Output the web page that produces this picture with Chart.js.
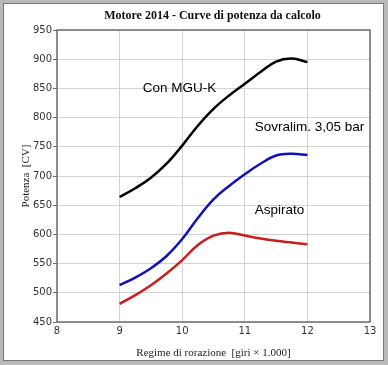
<!DOCTYPE html>
<html>
<head>
<meta charset="utf-8">
<script src="https://cdn.jsdelivr.net/npm/chart.js@4/dist/chart.umd.min.js"></script>
<style>
    html, body { margin: 0; padding: 0; background: #fff; }
    canvas { display: block; }
</style>
</head>
<body>
<canvas id="powerChart" width="388" height="365"></canvas>
<script>
// Data (rpm in thousands, power in CV)
const rpm = [9, 9.25, 9.5, 9.75, 10, 10.25, 10.5, 10.75, 11, 11.25, 11.5, 11.75, 12];
const conMguk = [664, 679, 697, 721, 752, 786, 815, 838, 858, 878, 896, 901, 895];
const sovralim = [513, 526, 542, 563, 592, 628, 660, 683, 703, 721, 735, 738, 736];
const aspirato = [481, 496, 513, 533, 556, 582, 598, 603, 598, 593, 589, 586, 583];

const xTicks = [8, 9, 10, 11, 12, 13];
const yTicks = [450, 500, 550, 600, 650, 700, 750, 800, 850, 900, 950];

// Curve labels placed in data coordinates (left edge, vertical middle)
const labelTexts = ['Con MGU-K', 'Sovralim. 3,05 bar', 'Aspirato'];
const labelX = [9.37, 11.16, 11.16];
const labelY = [851, 784, 642];

const chartTitle = 'Motore 2014 - Curve di potenza da calcolo';
const yTitle = 'Potenza  [CV]';
const xTitle = 'Regime di rorazione  [giri \u00d7 1.000]';

const toPoints = values => values.map((v, i) => ({ x: rpm[i], y: v }));

// Gray picture frame plus the title over the plot area
const framePlugin = {
    id: 'frame',
    beforeDraw(chart) {
        const { ctx, width, height, chartArea } = chart;
        ctx.save();
        ctx.fillStyle = '#b9b9b9';
        ctx.fillRect(0, 0, width, 3);
        ctx.fillRect(0, 0, 3, height);
        ctx.fillRect(width - 4, 0, 4, height);
        ctx.fillRect(0, height - 4, width, 4);
        ctx.strokeStyle = '#7a7a7a';
        ctx.lineWidth = 1;
        ctx.strokeRect(3.5, 3.5, width - 8, height - 8);

        ctx.fillStyle = '#111';
        ctx.font = 'bold 12px "Liberation Serif", "DejaVu Serif", serif';
        ctx.textAlign = 'center';
        ctx.textBaseline = 'middle';
        ctx.fillText(chartTitle, (chartArea.left + chartArea.right) / 2 - 1, 16);
        ctx.restore();
    },
    afterDraw(chart) {
        const { ctx, chartArea, scales } = chart;
        ctx.save();
        ctx.strokeStyle = '#6e6e6e';
        ctx.lineWidth = 1.5;
        ctx.strokeRect(chartArea.left, chartArea.top, chartArea.right - chartArea.left, chartArea.bottom - chartArea.top);

        ctx.fillStyle = '#000';
        ctx.font = '13.5px "Liberation Sans", Arial, sans-serif';
        ctx.textAlign = 'left';
        ctx.textBaseline = 'middle';
        labelTexts.forEach((text, i) => {
            ctx.fillText(text, scales.x.getPixelForValue(labelX[i]), scales.y.getPixelForValue(labelY[i]));
        });
        ctx.restore();
    }
};

const ctx = document.getElementById('powerChart').getContext('2d');
new Chart(ctx, {
    type: 'line',
    data: {
        datasets: [
            { label: 'Con MGU-K', data: toPoints(conMguk), borderColor: '#000000' },
            { label: 'Sovralim. 3,05 bar', data: toPoints(sovralim), borderColor: '#1010c0' },
            { label: 'Aspirato', data: toPoints(aspirato), borderColor: '#cc1c1c' }
        ]
    },
    options: {
        responsive: false,
        animation: false,
        layout: { padding: { top: 30, right: 18, left: 0, bottom: 0 } },
        elements: {
            point: { radius: 0 },
            line: { borderWidth: 2.5, tension: 0.4, fill: false }
        },
        plugins: {
            legend: { display: false },
            tooltip: { enabled: false }
        },
        scales: {
            x: {
                type: 'linear',
                min: 8,
                max: 13,
                afterBuildTicks: scale => { scale.ticks = xTicks.map(v => ({ value: v })); },
                afterFit: scale => { scale.height = 43; },
                grid: { color: '#d2d2d2', tickLength: 0 },
                border: { display: false },
                ticks: {
                    color: '#333',
                    padding: 3,
                    font: { family: '"DejaVu Sans", sans-serif', size: 10 }
                },
                title: {
                    display: true,
                    text: xTitle,
                    color: '#222',
                    padding: { top: 0, bottom: 5 },
                    font: { family: '"Liberation Serif", serif', size: 11 }
                }
            },
            y: {
                min: 450,
                max: 950,
                afterBuildTicks: scale => { scale.ticks = yTicks.map(v => ({ value: v })); },
                afterFit: scale => { scale.width = 57; },
                grid: { color: '#d2d2d2', tickColor: '#6e6e6e', tickLength: 4 },
                border: { display: false },
                ticks: {
                    color: '#333',
                    padding: 1,
                    font: { family: '"DejaVu Sans", sans-serif', size: 10 }
                },
                title: {
                    display: true,
                    text: yTitle,
                    color: '#222',
                    padding: { top: 20, bottom: 0 },
                    font: { family: '"Liberation Serif", serif', size: 11 }
                }
            }
        }
    },
    plugins: [framePlugin]
});
</script>
</body>
</html>
